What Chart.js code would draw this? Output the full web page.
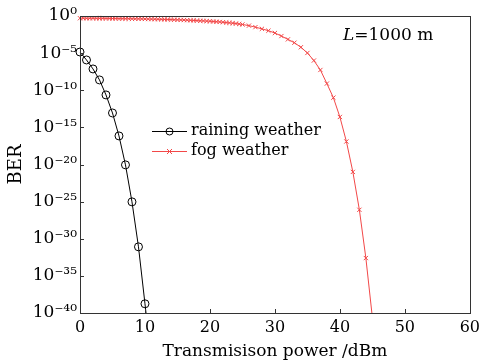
<!DOCTYPE html>
<html>
<head>
  <meta charset="UTF-8">
  <title>BER vs transmission power</title>
  <script src="https://cdn.jsdelivr.net/npm/chart.js@4/dist/chart.umd.min.js"></script>
  <style>
    body { margin: 0; background: #fff; }
  </style>
</head>
<body>
  <canvas id="chartBer" width="485" height="362"></canvas>

  <script>
    // raining weather (circles), BER as powers of ten
    const rainPower = [0, 1, 2, 3, 4, 5, 6, 7, 8, 9, 10, 10.16];
    const rainBerExp = [-4.85, -5.92, -7.13, -8.61, -10.63, -13.06, -16.15, -20.05, -25.03, -31.09, -38.76, -40];

    // fog weather (crosses)
    const fogPower = [0, 0.5, 1, 1.5, 2, 2.5, 3, 3.5, 4, 4.5, 5, 5.5, 6, 6.5, 7, 7.5, 8, 8.5, 9, 9.5,
      10, 10.5, 11, 11.5, 12, 12.5, 13, 13.5, 14, 14.5, 15, 15.5, 16, 16.5, 17, 17.5, 18, 18.5, 19, 19.5,
      20, 20.5, 21, 21.5, 22, 22.5, 23, 23.5, 24, 24.5, 25,
      26, 27, 28, 29, 30, 31, 32, 33, 34, 35, 36, 37, 38, 39, 40, 41, 42, 43, 44, 45];
    const fogBerExp = [-0.30, -0.30, -0.31, -0.31, -0.31, -0.32, -0.32, -0.32, -0.33, -0.33, -0.34, -0.34, -0.35, -0.35, -0.36, -0.36, -0.37, -0.38, -0.38, -0.39,
      -0.40, -0.41, -0.42, -0.43, -0.44, -0.45, -0.46, -0.47, -0.48, -0.50, -0.51, -0.53, -0.54, -0.56, -0.58, -0.60, -0.62, -0.64, -0.66, -0.69,
      -0.71, -0.74, -0.77, -0.80, -0.84, -0.88, -0.92, -0.97, -1.02, -1.08, -1.14,
      -1.30, -1.50, -1.73, -1.98, -2.29, -2.70, -3.15, -3.60, -4.21, -4.98, -6.00, -7.27, -9.10, -11.0, -13.6, -16.9, -21.0, -26.1, -32.6, -40.6];

    const yTickExps = [0, -5, -10, -15, -20, -25, -30, -35, -40];
    const xTicks = [0, 10, 20, 30, 40, 50, 60];

    const serif = "'DejaVu Serif', serif";
    const red = "#f24848";

    const sup = { "-": "\u207B", "0": "\u2070", "1": "\u00B9", "2": "\u00B2", "3": "\u00B3", "4": "\u2074",
      "5": "\u2075", "6": "\u2076", "7": "\u2077", "8": "\u2078", "9": "\u2079" };
    const toSup = (n) => String(n).split("").map(c => sup[c]).join("");

    const rainData = rainPower.map((p, i) => ({ x: p, y: Math.pow(10, rainBerExp[i]) }));
    const fogData = fogPower.map((p, i) => ({ x: p, y: Math.pow(10, fogBerExp[i]) }));

    const boxAndLegend = {
      id: "boxAndLegend",
      afterDraw(chart) {
        const ctx = chart.ctx;
        const a = chart.chartArea;
        const xs = chart.scales.x, ys = chart.scales.y;
        ctx.save();
        ctx.strokeStyle = "#333";
        ctx.lineWidth = 1;
        ctx.strokeRect(Math.round(a.left) + 0.5, Math.round(a.top) + 0.5,
          Math.round(a.right - a.left), Math.round(a.bottom - a.top));
        // inward ticks
        ctx.beginPath();
        yTickExps.forEach(e => {
          const y = Math.round(ys.getPixelForValue(Math.pow(10, e))) + 0.5;
          ctx.moveTo(a.left, y); ctx.lineTo(a.left + 4, y);
        });
        xTicks.forEach(v => {
          const x = Math.round(xs.getPixelForValue(v)) + 0.5;
          ctx.moveTo(x, a.bottom); ctx.lineTo(x, a.bottom - 4);
        });
        ctx.stroke();

        // legend
        ctx.font = "16px " + serif;
        ctx.textBaseline = "middle";
        ctx.fillStyle = "#000";
        ctx.lineWidth = 1;
        ctx.strokeStyle = "#000";
        ctx.beginPath(); ctx.moveTo(152, 131.5); ctx.lineTo(187, 131.5); ctx.stroke();
        ctx.beginPath(); ctx.arc(169.5, 131.5, 3.5, 0, Math.PI * 2); ctx.stroke();
        ctx.fillText(chart.data.datasets[0].label, 191, 131);
        ctx.strokeStyle = red;
        ctx.beginPath(); ctx.moveTo(152, 151.5); ctx.lineTo(187, 151.5); ctx.stroke();
        ctx.beginPath();
        ctx.moveTo(167, 149); ctx.lineTo(172, 154);
        ctx.moveTo(172, 149); ctx.lineTo(167, 154);
        ctx.stroke();
        ctx.fillText(chart.data.datasets[1].label, 191, 151);

        // L=1000 m
        ctx.textBaseline = "alphabetic";
        ctx.font = "italic 17px " + serif;
        ctx.fillText("L", 343, 40);
        const w = ctx.measureText("L").width;
        ctx.font = "17px " + serif;
        ctx.fillText("=1000 m", 343 + w, 40);
        ctx.restore();
      }
    };

    new Chart(document.getElementById("chartBer"), {
      type: "line",
      data: {
        datasets: [
          {
            label: "raining weather",
            data: rainData,
            borderColor: "#000",
            borderWidth: 1,
            pointStyle: "circle",
            pointRadius: rainPower.map((p, i) => i < rainPower.length - 1 ? 4 : 0),
            pointBorderColor: "#000",
            pointBackgroundColor: "rgba(0,0,0,0)",
            pointBorderWidth: 1,
            tension: 0,
            clip: false
          },
          {
            label: "fog weather",
            data: fogData,
            borderColor: red,
            borderWidth: 1,
            pointStyle: "crossRot",
            pointRadius: 3,
            pointBorderColor: red,
            pointBorderWidth: 1,
            tension: 0,
            clip: { left: 10, top: 10, right: 10, bottom: 0 }
          }
        ]
      },
      options: {
        responsive: false,
        animation: false,
        devicePixelRatio: 1,
        layout: { padding: { top: 16, right: 13, left: 0, bottom: 0 } },
        plugins: { legend: { display: false }, tooltip: { enabled: false } },
        scales: {
          x: {
            type: "linear",
            min: 0,
            max: 60,
            afterBuildTicks: (s) => { s.ticks = xTicks.map(v => ({ value: v })); },
            afterFit: (s) => { s.height = 49; },
            grid: { display: false, drawTicks: false },
            border: { display: false },
            ticks: { color: "#000", font: { family: serif, size: 16 }, padding: 5 },
            title: { display: true, text: "Transmisison power /dBm", color: "#000",
              font: { family: serif, size: 17 }, padding: { top: 0, bottom: 0 } }
          },
          y: {
            type: "logarithmic",
            min: 1e-40,
            max: 1,
            afterBuildTicks: (s) => { s.ticks = yTickExps.map(e => ({ value: Math.pow(10, e) })); },
            afterFit: (s) => { s.width = 80; },
            grid: { display: false, drawTicks: false },
            border: { display: false },
            ticks: {
              color: "#000",
              font: { family: serif, size: 17 },
              padding: 3,
              callback: (v) => "10" + toSup(Math.round(Math.log10(v)))
            },
            title: { display: true, text: "BER", color: "#000",
              font: { family: serif, size: 18 }, padding: { top: 6, bottom: 0 } }
          }
        }
      },
      plugins: [boxAndLegend]
    });
  </script>
</body>
</html>
